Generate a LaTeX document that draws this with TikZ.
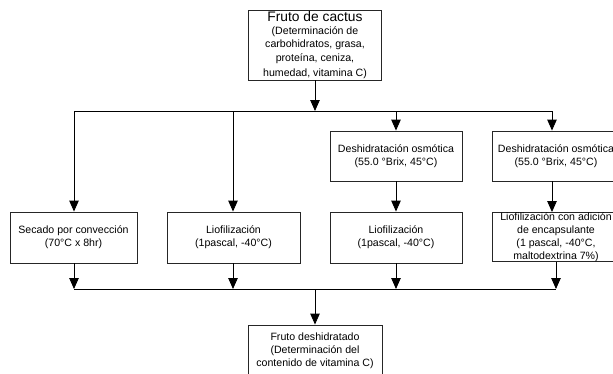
\documentclass[tikz,border=0pt]{standalone}
\usepackage{fontspec}
\setmainfont{Liberation Sans}
\usetikzlibrary{arrows.meta}
\begin{document}
\begin{tikzpicture}[x=1pt,y=-1pt,
  box/.style={draw=black!85,line width=0.9pt,align=center,inner sep=1pt,
    font=\fontsize{10.6}{13}\selectfont},
  arr/.style={-{Triangle[length=11pt,width=9.5pt]},line width=0.9pt},
  ln/.style={line width=0.9pt}]
\useasboundingbox (0,0) rectangle (613,373);
\node[box,minimum width=133pt,minimum height=70pt,font=\fontsize{10.6}{13.5}\selectfont] (top) at (315,45)
  {{\fontsize{13.8}{15}\selectfont Fruto de cactus}\\[-1pt]
   (Determinación de\\carbohidratos, grasa,\\proteína, ceniza,\\[1.5pt]humedad, vitamina C)};
\node[box,minimum width=127pt,minimum height=51pt] (c1) at (73.5,237.5)
  {Secado por convección\\(70°C x 8hr)};
\node[box,minimum width=133pt,minimum height=51pt] (c2) at (233.5,237.5)
  {Liofilización\\(1pascal, -40°C)};
\node[box,minimum width=132pt,minimum height=50pt] (c3u) at (396,156)
  {Deshidratación osmótica\\(55.0 °Brix, 45°C)};
\node[box,minimum width=132pt,minimum height=51pt] (c3l) at (396,237.5)
  {Liofilización\\(1pascal, -40°C)};
\node[box,minimum width=128pt,minimum height=50pt] (c4u) at (556,156)
  {Deshidratación osmótica\\(55.0 °Brix, 45°C)};
\node[box,minimum width=128pt,minimum height=49pt,inner sep=0pt] (c4l) at (556,237)
  {Liofilización con adición\\de encapsulante\\(1 pascal, -40°C,\\maltodextrina 7\%)};
\node[box,minimum width=134pt,minimum height=52pt] (bot) at (315,351)
  {Fruto deshidratado\\(Determinación del\\contenido de vitamina C)};
% top distribution
\coordinate (t0) at (315,111);
\coordinate (t1) at (74,111);
\coordinate (t2) at (233,111);
\coordinate (t3) at (396,111);
\coordinate (t4) at (552,111);
\draw[arr] (top.south) -- (t0);
\draw[ln] (t1) -- (t4);
\draw[arr] (t1) -- (t1 |- c1.north);
\draw[arr] (t2) -- (t2 |- c2.north);
\draw[arr] (t3) -- (t3 |- c3u.north);
\draw[arr] (t4) -- (t4 |- c4u.north);
\draw[arr] (c3u.south) -- (c3l.north);
\draw[arr] (t4 |- c4u.south) -- (t4 |- c4l.north);
% bottom collection
\coordinate (b0) at (315,289);
\coordinate (b1) at (74,289);
\coordinate (b2) at (233,289);
\coordinate (b3) at (396,289);
\coordinate (b4) at (556,289);
\draw[arr] (b1 |- c1.south) -- (b1);
\draw[arr] (b2 |- c2.south) -- (b2);
\draw[arr] (b3 |- c3l.south) -- (b3);
\draw[arr] (b4 |- c4l.south) -- (b4);
\draw[ln] (b1) -- (b4);
\draw[arr] (b0) -- (bot.north);
\end{tikzpicture}
\end{document}
